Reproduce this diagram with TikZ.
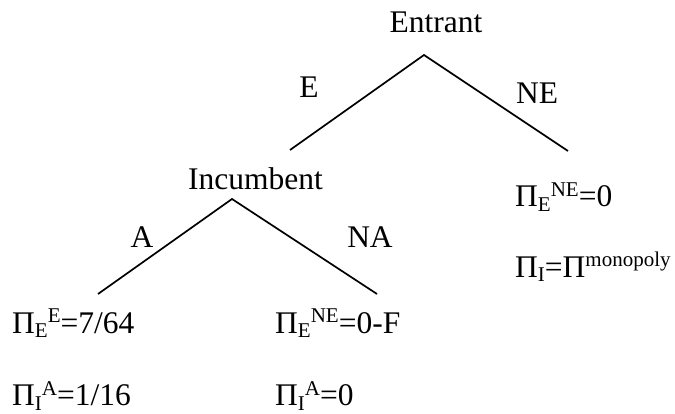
\documentclass[tikz,border=0pt]{standalone}
\usepackage{fontspec}
\setmainfont{Liberation Serif}
\newcommand\Sb[1]{\raisebox{-5pt}{\fontsize{21}{21}\selectfont #1}}
\newcommand\Sp[1]{\raisebox{10pt}{\fontsize{21}{21}\selectfont #1}}
\begin{document}
\begin{tikzpicture}[x=1pt,y=-1pt,
  txt/.style={inner sep=0pt, anchor=base, font=\fontsize{31.5}{38}\selectfont},
  pay/.style={txt, anchor=base west},
  branch/.style={line width=1.7pt}]
\useasboundingbox (0,0) rectangle (675,414);
\node[txt] (entrant) at (436,33) {Entrant};
\coordinate (n1) at (424,55);
\coordinate (lE) at (290,150);
\coordinate (rNE) at (568,151);
\draw[branch] (lE) -- (n1) -- (rNE);
\node[txt] (E) at (309,98) {E};
\node[txt] (NE) at (537,104) {NE};
\node[txt] (incumbent) at (255.5,190) {Incumbent};
\coordinate (n2) at (232,199);
\coordinate (lA) at (98,294);
\coordinate (rNA) at (377,294);
\draw[branch] (lA) -- (n2) -- (rNA);
\node[txt] (A) at (142,248) {A};
\node[txt] (NA) at (370,248) {NA};
\node[pay] (pEE) at (12,333) {Π\Sb{E}\Sp{E}=7/64};
\node[pay] (pIA1) at (12,405) {Π\Sb{I}\Sp{A}=1/16};
\node[pay] (pENE1) at (275,333) {Π\Sb{E}\Sp{NE}=0-F};
\node[pay] (pIA2) at (275,405) {Π\Sb{I}\Sp{A}=0};
\node[pay] (pENE2) at (515,207) {Π\Sb{E}\Sp{NE}=0};
\node[pay] (pI) at (515,277) {Π\Sb{I}=Π\Sp{monopoly}};
\end{tikzpicture}
\end{document}
